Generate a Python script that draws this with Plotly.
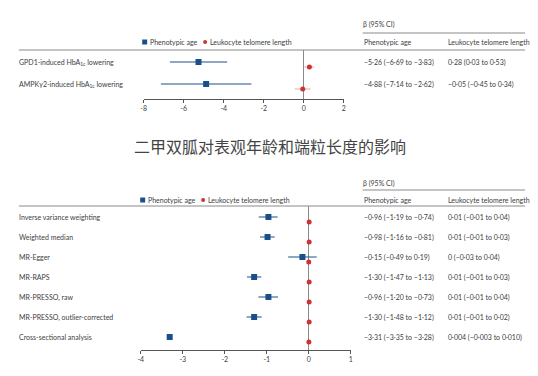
import plotly.graph_objects as go

W, H = 538, 376
BLUE = "#1b4f8a"
RED = "#cc3333"
RED_LIGHT = "#eba3a3"
TXT = "#404040"
LINE = "#8a8a8a"
FONT = "Lato"

# ---------------- data: top panel ----------------
top_labels = ["GPD1-induced HbA<sub>1c</sub> lowering", "AMPKγ2-induced HbA<sub>1c</sub> lowering"]
top_pa = [-5.26, -4.88]
top_pa_lo = [-6.69, -7.14]
top_pa_hi = [-3.83, -2.62]
top_ltl = [0.28, -0.05]
top_ltl_lo = [0.03, -0.45]
top_ltl_hi = [0.53, 0.34]
top_pa_txt = ["−5·26 (−6·69 to −3·83)", "−4·88 (−7·14 to −2·62)"]
top_ltl_txt = ["0·28 (0·03 to 0·53)", "−0·05 (−0·45 to 0·34)"]
top_ticks = [-8, -6, -4, -2, 0, 2]

# ---------------- data: bottom panel ----------------
bot_labels = ["Inverse variance weighting", "Weighted median", "MR-Egger", "MR-RAPS",
              "MR-PRESSO, raw", "MR-PRESSO, outlier-corrected", "Cross-sectional analysis"]
bot_pa = [-0.96, -0.98, -0.15, -1.30, -0.96, -1.30, -3.31]
bot_pa_lo = [-1.19, -1.16, -0.49, -1.47, -1.20, -1.48, -3.35]
bot_pa_hi = [-0.74, -0.81, 0.19, -1.13, -0.73, -1.12, -3.28]
bot_ltl = [0.01, 0.01, 0.0, 0.01, 0.01, 0.01, 0.004]
bot_ltl_lo = [-0.01, -0.01, -0.03, -0.01, -0.01, -0.01, -0.003]
bot_ltl_hi = [0.04, 0.03, 0.04, 0.03, 0.04, 0.02, 0.010]
bot_pa_txt = ["−0·96 (−1·19 to −0·74)", "−0·98 (−1·16 to −0·81)", "−0·15 (−0·49 to 0·19)",
              "−1·30 (−1·47 to −1·13)", "−0·96 (−1·20 to −0·73)", "−1·30 (−1·48 to −1·12)",
              "−3·31 (−3·35 to −3·28)"]
bot_ltl_txt = ["0·01 (−0·01 to 0·04)", "0·01 (−0·01 to 0·03)", "0 (−0·03 to 0·04)",
               "0·01 (−0·01 to 0·03)", "0·01 (−0·01 to 0·04)", "0·01 (−0·01 to 0·02)",
               "0·004 (−0·003 to 0·010)"]
bot_ticks = [-4, -3, -2, -1, 0, 1]

legend_names = ["Phenotypic age", "Leukocyte telomere length"]
title = "二甲双胍对表观年龄和端粒长度的影响"

def px(x):
    return x / W

def py(y):
    return 1 - y / H

fig = go.Figure()

def add_panel(xa, ya, pa, lo, hi, ltl, llo, lhi, off, ms_sq, red_err_col):
    n = len(pa)
    rows = list(range(n))
    fig.add_trace(go.Scatter(
        x=ltl, y=[r + off for r in rows], mode="markers",
        marker=dict(color=RED, size=5, symbol="circle"),
        error_x=dict(type="data", symmetric=False,
                     array=[h - v for h, v in zip(lhi, ltl)],
                     arrayminus=[v - l for v, l in zip(ltl, llo)],
                     color=red_err_col, thickness=1, width=0),
        xaxis=xa, yaxis=ya, showlegend=False, hoverinfo="skip"))
    fig.add_trace(go.Scatter(
        x=pa, y=[r - off for r in rows], mode="markers",
        marker=dict(color=BLUE, size=ms_sq, symbol="square"),
        error_x=dict(type="data", symmetric=False,
                     array=[h - v for h, v in zip(hi, pa)],
                     arrayminus=[v - l for v, l in zip(pa, lo)],
                     color=BLUE, thickness=1, width=0),
        xaxis=xa, yaxis=ya, showlegend=False, hoverinfo="skip"))

add_panel("x", "y", top_pa, top_pa_lo, top_pa_hi, top_ltl, top_ltl_lo, top_ltl_hi,
          2.5 / 22, 6, RED_LIGHT)
add_panel("x2", "y2", bot_pa, bot_pa_lo, bot_pa_hi, bot_ltl, bot_ltl_lo, bot_ltl_hi,
          2.5 / 20, 6, RED_LIGHT)

axis_common = dict(showline=True, linecolor="#555", linewidth=1, ticks="outside",
                   ticklen=3, tickcolor="#555", tickwidth=1,
                   tickfont=dict(size=7, color=TXT, family=FONT),
                   showgrid=False, zeroline=True, zerolinecolor=LINE, zerolinewidth=1,
                   fixedrange=True)

fig.update_layout(
    width=W, height=H, margin=dict(l=0, r=0, t=0, b=0),
    paper_bgcolor="white", plot_bgcolor="white",
    xaxis=dict(domain=[px(142), px(344)], range=[-8, 2], tickvals=top_ticks,
               ticktext=[str(t) for t in top_ticks], anchor="y", **axis_common),
    yaxis=dict(domain=[py(99), py(50)], range=[(99 - 64.5) / 22, (50 - 64.5) / 22],
               visible=False, anchor="x", fixedrange=True),
    xaxis2=dict(domain=[px(139), px(351)], range=[-4, 1], tickvals=bot_ticks,
                ticktext=[str(t) for t in bot_ticks], anchor="y2", **axis_common),
    yaxis2=dict(domain=[py(350), py(206)], range=[(350 - 219.5) / 20, (206 - 219.5) / 20],
                visible=False, anchor="x2", fixedrange=True),
)

ann = []
shapes = []
PAD = 2  # annotation inner padding compensation

def text(x, y, s, size=7, anchor="left", color=TXT, yref="paper", yv=None):
    ann.append(dict(x=px(x - PAD), y=(py(y) if yv is None else yv), xref="paper", yref=yref,
                    text=s, showarrow=False, xanchor=anchor, yanchor="middle",
                    font=dict(size=size, color=color, family=FONT)))

def hline(x0, x1, y):
    shapes.append(dict(type="line", xref="paper", yref="paper", x0=px(x0), x1=px(x1),
                       y0=py(y), y1=py(y), line=dict(color=LINE, width=1)))

def legend_marks(x, y):
    shapes.append(dict(type="rect", xref="paper", yref="paper",
                       x0=px(x - 2.5), x1=px(x + 2.5), y0=py(y + 2.5), y1=py(y - 2.5),
                       fillcolor=BLUE, line=dict(width=0)))
    shapes.append(dict(type="circle", xref="paper", yref="paper",
                       x0=px(x + 59), x1=px(x + 63), y0=py(y + 2), y1=py(y - 2),
                       fillcolor=RED, line=dict(width=0)))

def panel_text(yref, labels, pa_txt, ltl_txt, off, beta_y, beta_line_y, head_y, line_y, leg_x):
    text(363, beta_y, "β (95% CI)")
    hline(363, 527, beta_line_y)
    text(364, head_y, legend_names[0])
    text(449, head_y, legend_names[1])
    hline(16, 527, line_y)
    legend_marks(leg_x, head_y)
    text(leg_x + 5, head_y, legend_names[0])
    text(leg_x + 66, head_y, legend_names[1])
    for i, lab in enumerate(labels):
        text(16, 0, lab, yref=yref, yv=i - off)
        text(364, 0, pa_txt[i], yref=yref, yv=i - off)
        text(449, 0, ltl_txt[i], yref=yref, yv=i - off)

panel_text("y", top_labels, top_pa_txt, top_ltl_txt, 2.5 / 22, 25, 33, 42, 50, 143)
panel_text("y2", bot_labels, bot_pa_txt, bot_ltl_txt, 2.5 / 20, 183, 190, 200, 206, 141)

ann.append(dict(x=px(270), y=py(146), xref="paper", yref="paper", text=title,
                showarrow=False, xanchor="center", yanchor="middle",
                font=dict(size=16, color="#444", family="Noto Sans CJK SC")))

fig.update_layout(annotations=ann, shapes=shapes)
fig.write_html("out.html", config={"displayModeBar": False},
               post_script="document.body.style.margin='0';")
